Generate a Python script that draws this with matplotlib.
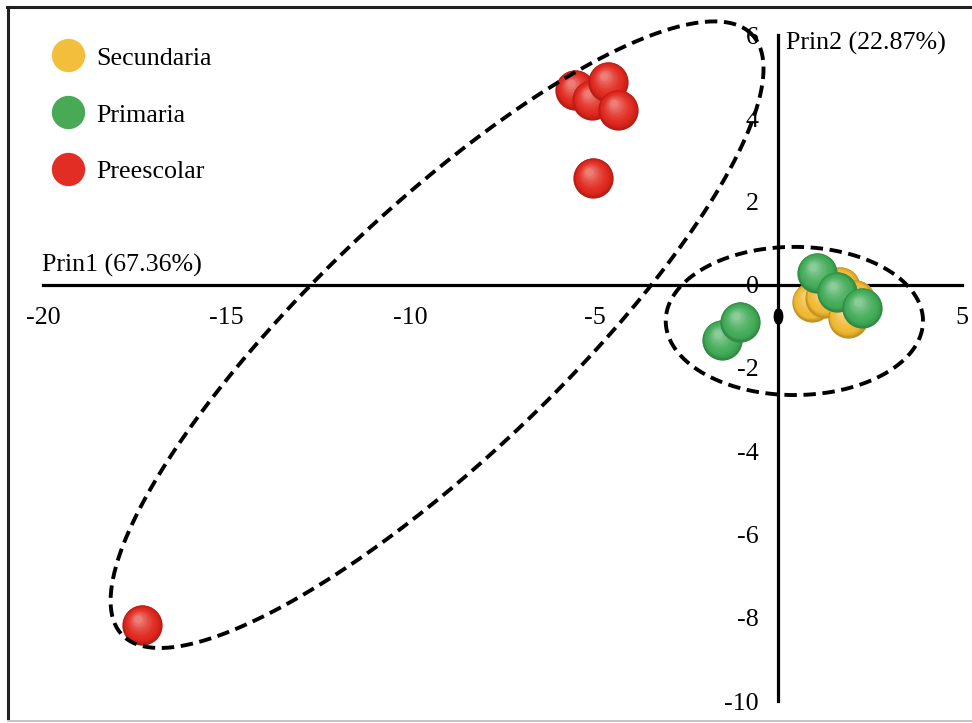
import numpy as np
import matplotlib
matplotlib.use("Agg")
import matplotlib.pyplot as plt
from matplotlib.lines import Line2D
from matplotlib.transforms import offset_copy
from matplotlib.path import Path
from matplotlib.colors import to_rgb

# ---------------- data ----------------
categories = ["Secundaria", "Primaria", "Preescolar"]
legend_colors = ["#F2BE3C", "#48AA55", "#E12D23"]

sec_x = [0.92, 1.28, 1.69, 2.09, 1.90]
sec_y = [-0.41, -0.31, -0.05, -0.36, -0.79]

pri_x = [-1.52, -1.03, 1.06, 1.60, 2.29]
pri_y = [-1.32, -0.89, 0.29, -0.17, -0.55]

pre_x = [-5.52, -5.06, -4.62, -4.35, -5.03, -17.30]
pre_y = [4.69, 4.45, 4.88, 4.21, 2.57, -8.17]

xtick_vals = [-20, -15, -10, -5, 5]
xtick_labels = ["-20", "-15", "-10", "-5", "5"]
ytick_vals = [-10, -8, -6, -4, -2, 0, 2, 4, 6]
ytick_labels = ["-10", "-8", "-6", "-4", "-2", "0", "2", "4", "6"]

xlabel = "Prin1 (67.36%)"
ylabel = "Prin2 (22.87%)"

# group ellipses: center, first axis vector, second axis vector (data units)
big_center = (-9.28, -1.2)
big_axis1 = (8.57, 7.21)
big_axis2 = (-2.33, 2.16)
small_center = (0.44, -0.87)
small_axis1 = (3.5, 0.0)
small_axis2 = (0.0, 1.78)

origin_dot = (0.0, -0.75)

# ---------------- figure ----------------
plt.rcParams["font.family"] = ["Liberation Serif", "DejaVu Serif"]
FS = 18.7

fig = plt.figure(figsize=(9.72, 7.23), dpi=100)
W, H = 972, 723
ax = fig.add_axes([43 / W, (H - 701) / H, 919 / W, 666 / H])
ax.set_xlim(-20, 5)
ax.set_ylim(-10, 6)
ax.patch.set_visible(False)

for s in ["top", "right"]:
    ax.spines[s].set_visible(False)
ax.spines["left"].set_position(("data", 0))
ax.spines["bottom"].set_position(("data", 0))
for s in ["left", "bottom"]:
    ax.spines[s].set_linewidth(2.3)
    ax.spines[s].set_color("black")
    ax.spines[s].set_zorder(1)

ax.set_xticks(xtick_vals)
ax.set_xticklabels(xtick_labels, fontsize=FS)
ax.set_yticks(ytick_vals)
ax.set_yticklabels(ytick_labels, fontsize=FS)
ax.tick_params(axis="x", length=0, pad=16)
ax.tick_params(axis="y", length=0, pad=14)

ax.text(-20.03, 0.32, xlabel, fontsize=FS, ha="left", va="baseline")
ax.text(0.22, 5.65, ylabel, fontsize=FS, ha="left", va="baseline")

# ellipses
t = np.linspace(0, 2 * np.pi, 400)
for c, a1, a2 in [(big_center, big_axis1, big_axis2),
                  (small_center, small_axis1, small_axis2)]:
    ex = c[0] + np.cos(t) * a1[0] + np.sin(t) * a2[0]
    ey = c[1] + np.cos(t) * a1[1] + np.sin(t) * a2[1]
    ax.plot(ex, ey, color="black", lw=2.8, linestyle=(0, (3.2, 1.7)),
            zorder=50, clip_on=False)

# small black dot on the axis
verts = Path.unit_circle().vertices * np.array([0.55, 1.0])
dot_marker = Path(verts, Path.unit_circle().codes)
ax.plot([origin_dot[0]], [origin_dot[1]], marker=dot_marker, markersize=11,
        color="black", zorder=3)

# 3D-looking spheres
DIAM = 29.0  # points


def sphere(x, y, color, z):
    base = np.array(to_rgb(color))
    dark = base * 0.80
    light = base + (1 - base) * 0.40
    n = 16
    for i in range(n):
        f = i / (n - 1)
        d = DIAM * (1 - 0.82 * f)
        off = 0.20 * DIAM * f
        tr = offset_copy(ax.transData, fig=fig, x=-0.55 * off, y=0.75 * off,
                         units="points")
        if f < 0.2:
            c = dark + (base - dark) * (f / 0.2)
        else:
            c = base + (light - base) * ((f - 0.2) / 0.8) ** 1.4
        ax.scatter([x], [y], s=d ** 2, color=np.clip(c, 0, 1), transform=tr,
                   linewidths=0, zorder=z + i * 0.001)


zz = 10
for xs, ys, col in [(pre_x, pre_y, "#E0261C"), (sec_x, sec_y, "#F0B830"),
                    (pri_x, pri_y, "#3FAA55")]:
    for x, y in zip(xs, ys):
        sphere(x, y, col, zz)
        zz += 1

# legend
handles = [Line2D([], [], linestyle="none", marker="o", markersize=24,
                  markerfacecolor=c, markeredgewidth=0) for c in legend_colors]
fig.legend(handles, categories, loc="upper left",
           bbox_to_anchor=(37 / W, 1 - 36 / H), frameon=False, fontsize=FS,
           labelspacing=1.30, handletextpad=0.3, borderaxespad=0,
           handlelength=1.6)

# frame lines of the picture
fig.add_artist(Line2D([7 / W, 1], [1 - 7 / H, 1 - 7 / H], color="#222222",
                      lw=2.2, transform=fig.transFigure))
fig.add_artist(Line2D([8 / W, 8 / W], [1 - 7 / H, 1 - 718 / H], color="#222222",
                      lw=2.2, transform=fig.transFigure))
fig.add_artist(Line2D([8 / W, 1], [1 - 720.5 / H, 1 - 720.5 / H], color="#BBBBBB",
                      lw=1.2, transform=fig.transFigure))

fig.savefig("out.png", dpi=100)
